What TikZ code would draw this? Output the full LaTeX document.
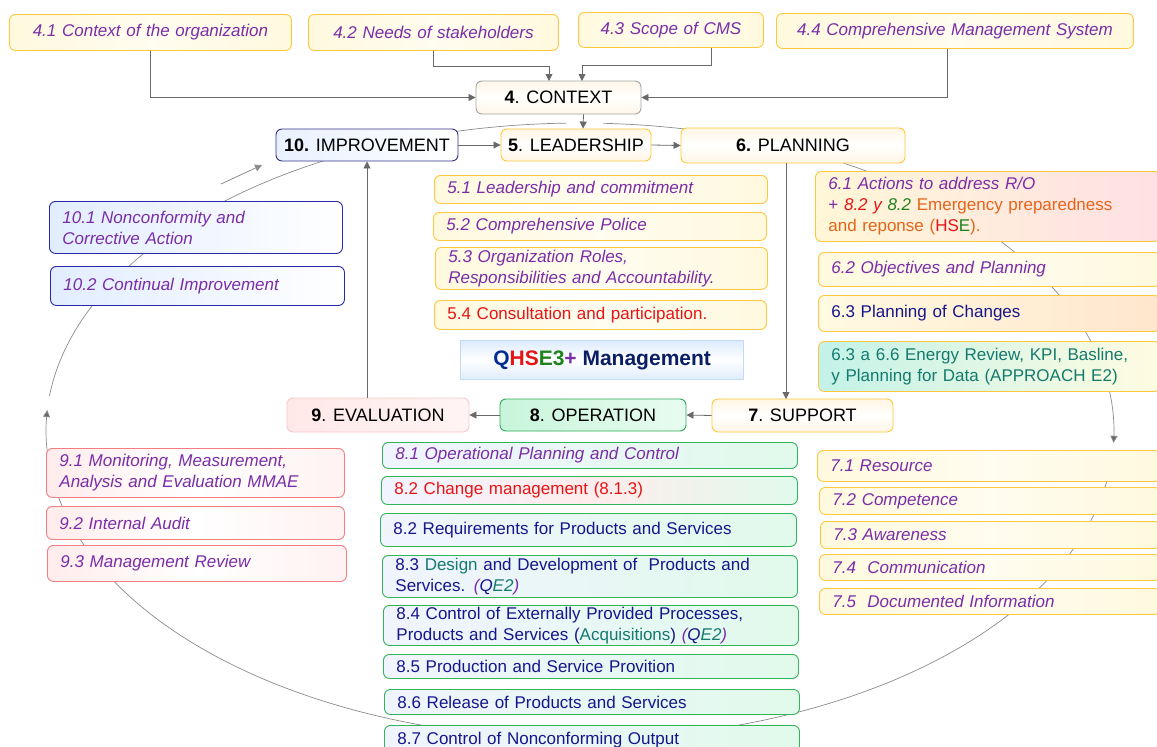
\documentclass[tikz,border=0pt]{standalone}
\usepackage{fontspec}
\setmainfont{Liberation Sans}
\usetikzlibrary{arrows.meta}

% text colours
\definecolor{purp}{RGB}{123,45,168}
\definecolor{navy}{RGB}{22,22,140}
\definecolor{tred}{RGB}{230,20,20}
\definecolor{torange}{RGB}{230,100,25}
\definecolor{tteal}{RGB}{20,122,110}
\definecolor{tgreen}{RGB}{30,130,30}
\definecolor{qblue}{RGB}{0,45,145}
\definecolor{qnavy}{RGB}{10,30,100}
% borders and fills
\definecolor{ybord}{RGB}{255,200,60}
\definecolor{yfill}{RGB}{255,249,222}
\definecolor{gbord}{RGB}{50,180,90}
\definecolor{pbord}{RGB}{245,125,130}
\definecolor{bbord}{RGB}{40,40,170}
\definecolor{arrowgray}{RGB}{105,105,105}
\definecolor{ringgray}{RGB}{140,140,140}

\tikzset{
  x=1pt, y=-1pt,
  basefont/.style={font=\fontsize{17}{21}\selectfont},
  card/.style={draw, rounded corners=6pt, line width=0.9pt, inner xsep=13pt,
    inner ysep=1pt, anchor=north west, align=left, basefont},
  centred/.style={align=center},
  ycard/.style={card, draw=ybord, left color=yfill, right color=yfill, middle color=white!55!yfill},
  bcard/.style={card, draw=bbord, left color={rgb,255:red,225;green,237;blue,255}, right color=white},
  pcard/.style={card, draw=pbord, left color={rgb,255:red,255;green,236;blue,236},
    right color={rgb,255:red,255;green,242;blue,242}, middle color=white},
  gcard/.style={card, draw=gbord, left color={rgb,255:red,240;green,244;blue,255},
    right color={rgb,255:red,225;green,250;blue,235}},
  itp/.style={text=purp, font=\fontsize{17}{21}\selectfont\itshape},
  head/.style={draw, rounded corners=6pt, line width=0.9pt, inner sep=2pt,
    font=\fontsize{18}{21}\selectfont},
  link/.style={draw=arrowgray, line width=0.8pt, -{Triangle[length=7pt,width=7pt]}},
  ring/.style={draw=ringgray, line width=0.7pt},
  ringtip/.style={-{Triangle[length=7pt,width=7pt,fill=arrowgray]}},
}

% \itemcard{style}{name}{left}{top}{width}{height}{text}
\newcommand\itemcard[7]{%
  \pgfmathsetmacro\cardtw{#5-26}%
  \node[#1, minimum width=#5pt, minimum height=#6pt, text width=\cardtw pt] (#2) at (#3,#4) {#7};}

\begin{document}
\begin{tikzpicture}
\useasboundingbox (0,0) rectangle (1157,747);
\fill[white] (0,0) rectangle (1157,747);

% the improvement cycle behind everything
\draw[ring, ringtip, domain=5:183.9, samples=120, smooth, variable=\t]
  plot ({580+534*cos(\t)},{431+308*sin(\t)});
\draw[ring, domain=186.5:268.6, samples=80, smooth, variable=\t]
  plot ({580+534*cos(\t)},{431+308*sin(\t)});
\draw[ring, ringtip, domain=272.5:362.2, samples=80, smooth, variable=\t]
  plot ({580+534*cos(\t)},{431+308*sin(\t)});

% clause 4 inputs
\itemcard{ycard,itp,centred}{n41}{9}{14}{282}{36}{4.1 Context of the organization}
\itemcard{ycard,itp,centred}{n42}{308}{14}{250}{36}{4.2 Needs of stakeholders}
\itemcard{ycard,itp,centred}{n43}{578}{12}{185}{35}{4.3 Scope of CMS}
\itemcard{ycard,itp,centred}{n44}{776}{13}{357}{35}{4.4 Comprehensive Management System}

% main clauses
\node[head, draw={rgb,255:red,165;green,165;blue,165}, top color={rgb,255:red,255;green,246;blue,230},
  bottom color={rgb,255:red,255;green,246;blue,230}, middle color=white,
  minimum width=165pt, minimum height=33pt] (ctx) at (558.5,97.5) {\textbf{4}. CONTEXT};
\node[head, draw={rgb,255:red,50;green,50;blue,135}, left color={rgb,255:red,232;green,241;blue,255},
  right color=white, minimum width=182pt, minimum height=32pt] (imp) at (367,145) {\textbf{10.} IMPROVEMENT};
\node[head, draw=ybord, top color={rgb,255:red,255;green,246;blue,228}, bottom color={rgb,255:red,255;green,246;blue,228},
  middle color=white, minimum width=150pt, minimum height=32pt] (lead) at (576,145) {\textbf{5}. LEADERSHIP};
\node[head, draw=ybord, top color={rgb,255:red,255;green,246;blue,228}, bottom color={rgb,255:red,255;green,246;blue,228},
  middle color=white, minimum width=224pt, minimum height=35pt] (plan) at (793,145.5) {\textbf{6.} PLANNING};
\node[head, draw={rgb,255:red,250;green,200;blue,200}, left color={rgb,255:red,255;green,232;blue,232},
  right color={rgb,255:red,255;green,244;blue,244}, minimum width=182pt, minimum height=34pt] (ev) at (378,415) {\textbf{9}. EVALUATION};
\node[head, draw={rgb,255:red,45;green,170;blue,85}, left color={rgb,255:red,200;green,245;blue,218},
  right color={rgb,255:red,232;green,252;blue,240}, minimum width=186pt, minimum height=32pt] (op) at (593,415) {\textbf{8}. OPERATION};
\node[head, draw=ybord, top color={rgb,255:red,255;green,246;blue,228}, bottom color={rgb,255:red,255;green,246;blue,228},
  middle color=white, minimum width=181pt, minimum height=33pt] (sup) at (802.5,415.5) {\textbf{7}. SUPPORT};

% clause 5
\itemcard{ycard,itp}{s51}{434}{175}{333}{28}{5.1 Leadership and commitment}
\itemcard{ycard,itp}{s52}{433}{212}{333}{28}{5.2 Comprehensive Police}
\itemcard{ycard,itp}{s53}{435}{247}{332}{42}{5.3 Organization Roles,\\Responsibilities and Accountability.}
\itemcard{ycard,text=tred}{s54}{434}{300}{332}{29}{5.4 Consultation and participation.}

% system title
\node[draw={rgb,255:red,195;green,218;blue,245}, line width=1.2pt, anchor=north west,
  top color={rgb,255:red,222;green,236;blue,252}, bottom color={rgb,255:red,222;green,236;blue,252},
  middle color=white, minimum width=283pt, minimum height=39pt,
  font=\fontsize{21}{24}\selectfont\bfseries] (qhse) at (460,340)
  {{\color{qblue}Q}{\color{tred}HS}{\color{tgreen}E3}{\color{purp}+} {\color{qnavy}Management}};

% clause 6
\itemcard{card, draw=ybord, left color={rgb,255:red,255;green,247;blue,215}, middle color={rgb,255:red,228;green,250;blue,232},
  right color={rgb,255:red,255;green,224;blue,228}}{s61}{815}{171}{345}{70}
  {{\itshape\color{purp}6.1 Actions to address R/O}\\
   {\color{purp}+ }{\itshape\color{tred}8.2 y }{\itshape\color{tgreen}8.2 }{\color{torange}Emergency preparedness}\\
   {\color{torange}and reponse (}{\color{tred}HS}{\color{tgreen}E}{\color{torange}).}}
\itemcard{ycard,itp}{s62}{818}{252}{342}{34}{6.2 Objectives and Planning}
\itemcard{card, draw=ybord, text=navy, left color={rgb,255:red,255;green,250;blue,225},
  middle color={rgb,255:red,226;green,236;blue,255}, right color={rgb,255:red,255;green,230;blue,205}}
  {s63}{818}{295}{342}{36}{6.3 Planning of Changes}
\itemcard{card, draw=ybord, text=tteal, left color={rgb,255:red,195;green,242;blue,232},
  right color={rgb,255:red,255;green,252;blue,225}}
  {s636}{818}{341}{342}{50}{6.3 a 6.6 Energy Review, KPI, Basline,\\y Planning for Data (APPROACH E2)}

% clause 7
\itemcard{ycard,itp}{s71}{817}{450}{343}{31}{7.1 Resource}
\itemcard{ycard,itp}{s72}{819}{487}{341}{27}{7.2 Competence}
\itemcard{ycard,itp}{s73}{820}{521}{340}{27}{7.3 Awareness}
\itemcard{ycard,itp}{s74}{819}{554}{341}{26}{7.4\ \ Communication}
\itemcard{ycard,itp}{s75}{819}{588}{341}{26}{7.5\ \ Documented Information}

% clause 8
\itemcard{gcard,itp}{s81}{382}{442}{415}{26}{8.1 Operational Planning and Control}
\itemcard{gcard,text=tred, middle color={rgb,255:red,255;green,236;blue,236}}{s82a}{381}{476}{416}{28}{8.2 Change management (8.1.3)}
\itemcard{gcard,text=navy}{s82b}{380}{513}{416}{33}{8.2 Requirements for Products and Services}
\itemcard{gcard,text=navy}{s83}{382}{555}{415}{42}
  {8.3 {\color{tteal}Design} and Development of\ \ Products and\\
   Services. {\itshape\color{purp}(}{\itshape Q}{\itshape\color{tteal}E2}{\itshape\color{purp})}}
\itemcard{gcard,text=navy}{s84}{383}{605}{415}{40}
  {8.4 Control of Externally Provided Processes,\\
   Products and Services ({\color{tteal}Acquisitions}) {\itshape\color{purp}(}{\itshape Q}{\itshape\color{tteal}E2}{\itshape\color{purp})}}
\itemcard{gcard,text=navy}{s85}{383}{654}{415}{24}{8.5 Production and Service Provition}
\itemcard{gcard,text=navy}{s86}{384}{689}{415}{25}{8.6 Release of Products and Services}
\itemcard{gcard,text=navy}{s87}{384}{725}{415}{30}{8.7 Control of Nonconforming Output}

% clause 9
\itemcard{pcard,itp}{s91}{46}{448}{298}{49}{9.1 Monitoring, Measurement,\\Analysis and Evaluation MMAE}
\itemcard{pcard,itp}{s92}{46}{506}{298}{33}{9.2 Internal Audit}
\itemcard{pcard,itp}{s93}{47}{545}{299}{36}{9.3 Management Review}

% clause 10
\itemcard{bcard,itp}{s101}{49}{201}{293}{52}{10.1 Nonconformity and\\Corrective Action}
\itemcard{bcard,itp}{s102}{50}{266}{294}{39}{10.2 Continual Improvement}

% connectors into the context
\coordinate (ctxin42) at (549,81);
\coordinate (ctxin43) at (582,81);
\draw[link] (n41.south) |- (ctx.west);
\draw[link] (n42.south) -- ++(0,15) -| (ctxin42);
\draw[link] ([xshift=40pt]n43.south) -- ++(0,17) -| (ctxin43);
\draw[link] ([xshift=-8pt]n44.south) |- (ctx.east);

% the main sequence
\coordinate (supin) at (786,399);
\draw[link] ([xshift=25pt]ctx.south) -- ([xshift=7pt]lead.north);
\draw[link] (imp.east) -- (lead.west);
\draw[link] (lead.east) -- (plan.west);
\draw[link] (plan.south -| supin) -- (supin);
\draw[link] (sup.west) -- (op.east);
\draw[link] (op.west) -- (ev.east);
\draw[link] (ev.north -| imp.south) -- (imp.south);

% short loose arrow beside the cycle
\coordinate (loosea) at (221,184);
\coordinate (looseb) at (262,165);
\draw[link, draw=ringgray, -{Triangle[length=7pt,width=7pt,fill=ringgray]}] (loosea) -- (looseb);
\end{tikzpicture}
\end{document}
